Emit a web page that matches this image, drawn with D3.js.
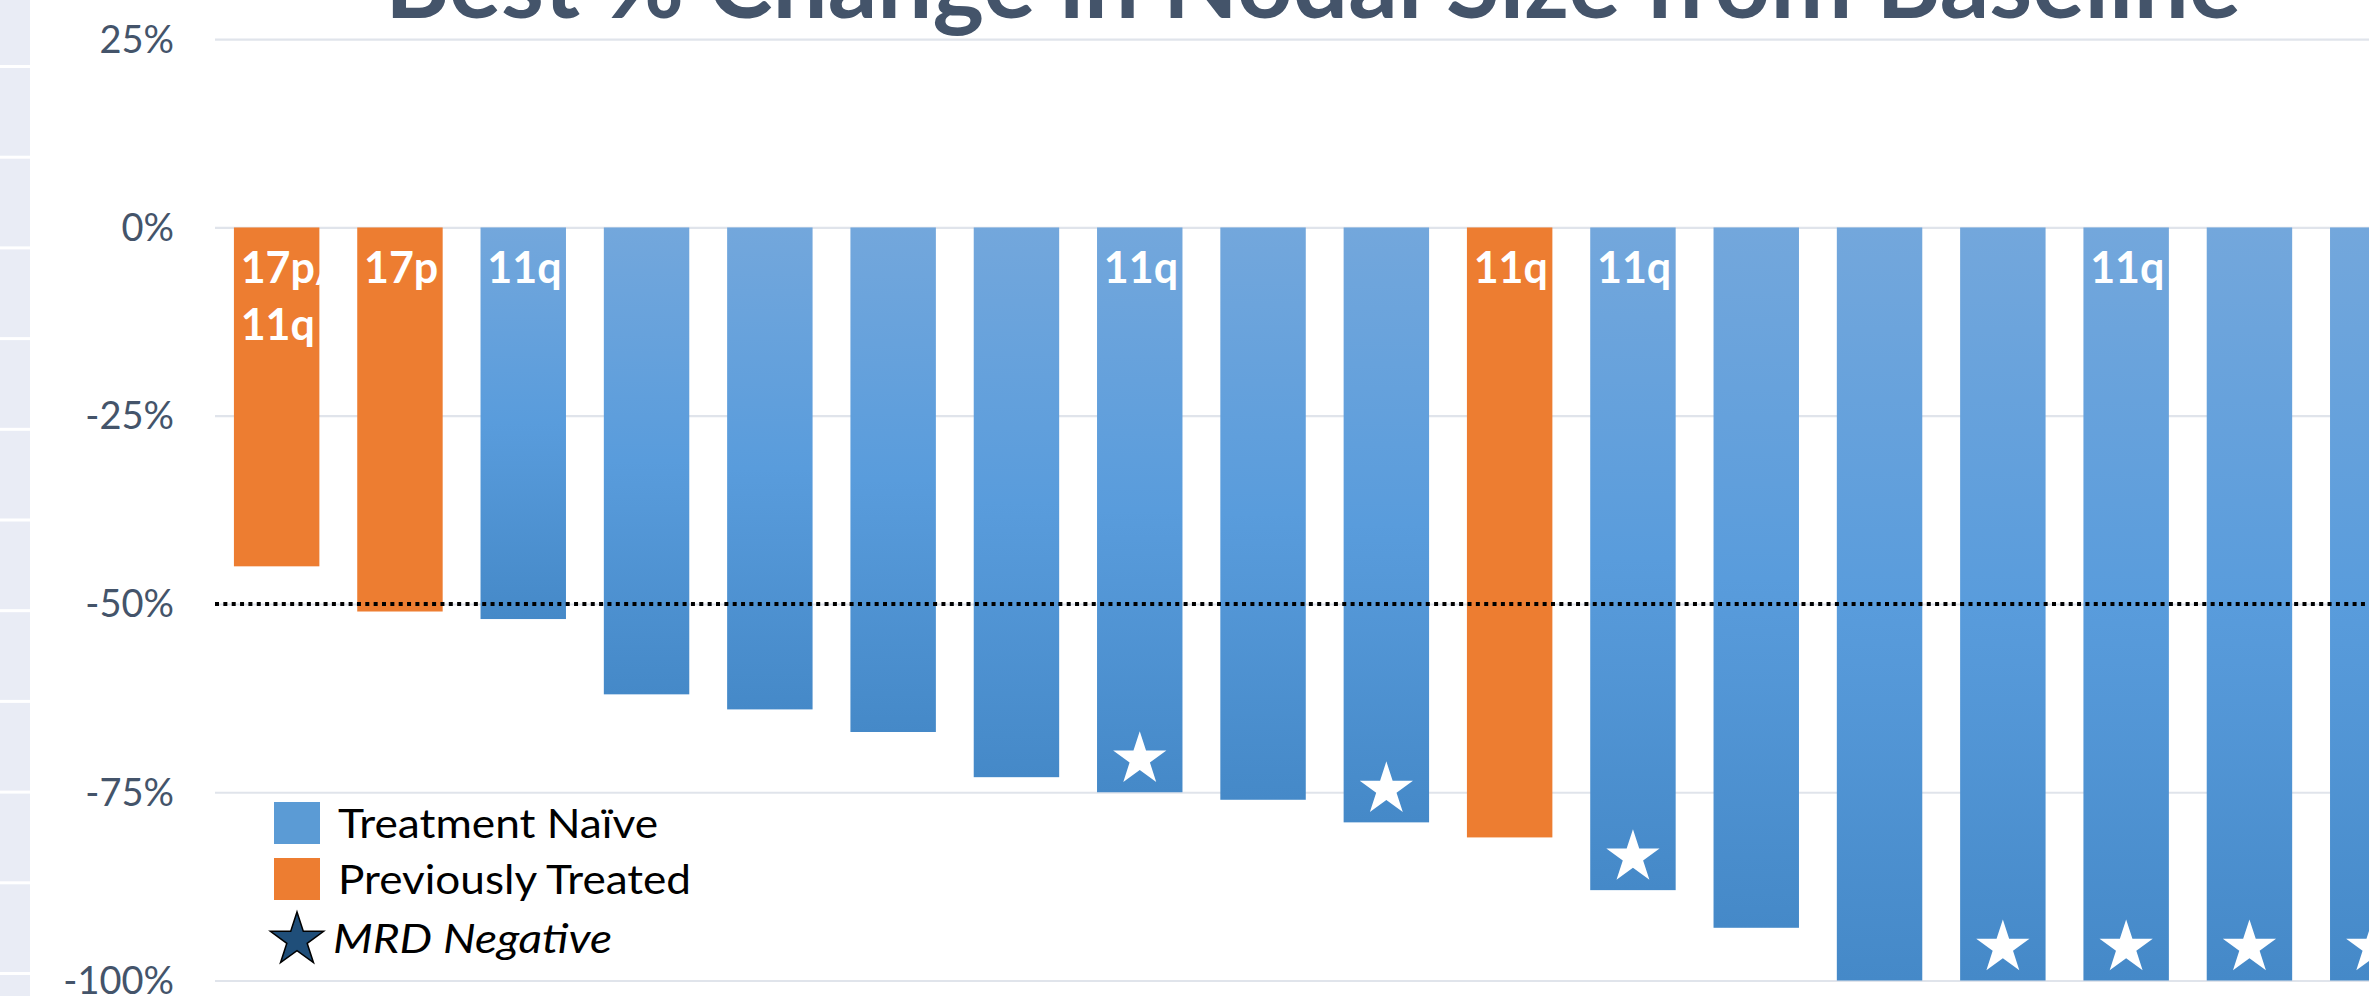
<!DOCTYPE html>
<html>
<head>
<meta charset="utf-8">
<script src="https://cdn.jsdelivr.net/npm/d3@7"></script>
<style>
  html, body { margin: 0; padding: 0; background: #ffffff; overflow: hidden; }
  svg { display: block; }
</style>
</head>
<body>
<script>
// ---------------- DATA ----------------
const patients = ["1","2","3","4","5","6","7","8","9","10","11","12","13","14","15","16","17","18"];
const bestChange = [-45, -51, -52, -62, -64, -67, -73, -75, -76, -79, -81, -88, -93, -100, -100, -100, -100, -100];
const cohort = ["Previously Treated","Previously Treated","Treatment Naïve","Treatment Naïve","Treatment Naïve",
                "Treatment Naïve","Treatment Naïve","Treatment Naïve","Treatment Naïve","Treatment Naïve",
                "Previously Treated","Treatment Naïve","Treatment Naïve","Treatment Naïve","Treatment Naïve",
                "Treatment Naïve","Treatment Naïve","Treatment Naïve"];
const mrdNegative = [false,false,false,false,false,false,false,true,false,true,false,true,false,false,true,true,true,true];
const cytogenetics = [["17p/","11q"],["17p"],["11q"],[],[],[],[],["11q"],[],[],["11q"],["11q"],[],[],[],["11q"],[],[]];
const tickValues = [25, 0, -25, -50, -75, -100];
const tickLabels = ["25%", "0%", "-25%", "-50%", "-75%", "-100%"];
const threshold = -50;
const legendItems = ["Treatment Naïve", "Previously Treated"];
const legendStarLabel = "MRD Negative";
const titleText = "Best % Change in Nodal Size from Baseline";

// ---------------- LAYOUT ----------------
const W = 2369, H = 996;
const plotLeft = 215, plotRight = W;
const step = 123.3;
const FONT = "Lato, 'Open Sans', 'DejaVu Sans', sans-serif";
const slate = "#44546a";
const orange = "#ed7d31";

const svg = d3.select("body").append("svg").attr("width", W).attr("height", H);

const defs = svg.append("defs");
const grad = defs.append("linearGradient").attr("id", "blueGrad")
  .attr("x1", 0).attr("y1", 0).attr("x2", 0).attr("y2", 1);
grad.append("stop").attr("offset", "0%").attr("stop-color", "#73a7dc");
grad.append("stop").attr("offset", "50%").attr("stop-color", "#599cdc");
grad.append("stop").attr("offset", "100%").attr("stop-color", "#4589c8");

// left decorative strip
const strip = svg.append("g");
strip.append("rect").attr("x", 0).attr("y", 0).attr("width", 30).attr("height", H).attr("fill", "#e9ecf5");
d3.range(11).forEach(k => {
  strip.append("rect").attr("x", 0).attr("y", 65 + k * 90.7).attr("width", 30).attr("height", 3).attr("fill", "#ffffff");
});

// scales
const y = d3.scaleLinear().domain([-100, 25]).range([980.5, 39.2]);
const x = d3.scaleBand().domain(patients)
  .range([plotLeft, plotLeft + step * patients.length])
  .paddingInner(0.307).paddingOuter(0.1535);

// gridlines
const yAxis = d3.axisLeft(y).tickValues(tickValues).tickSize(-(plotRight - plotLeft)).tickFormat("");
const gGrid = svg.append("g").attr("transform", `translate(${plotLeft},0)`).call(yAxis);
gGrid.select(".domain").remove();
gGrid.selectAll(".tick line").attr("stroke", "#e0e4eb").attr("stroke-width", 2.2);

// tick labels
svg.append("g").selectAll("text").data(tickValues).join("text")
  .attr("x", 174).attr("y", d => y(d) + 13.5)
  .attr("text-anchor", "end")
  .attr("font-family", FONT).attr("font-size", 38).attr("fill", slate)
  .text((d, i) => tickLabels[i]);

// bars
const data = patients.map((p, i) => ({ id: p, v: bestChange[i], c: cohort[i], mrd: mrdNegative[i], lab: cytogenetics[i] }));
svg.append("g").selectAll("rect").data(data).join("rect")
  .attr("x", d => x(d.id))
  .attr("y", y(0))
  .attr("width", x.bandwidth())
  .attr("height", d => y(d.v) - y(0))
  .attr("fill", d => d.c === "Previously Treated" ? orange : "url(#blueGrad)");

// threshold dotted line
svg.append("line")
  .attr("x1", plotLeft).attr("x2", plotRight)
  .attr("y1", y(threshold)).attr("y2", y(threshold))
  .attr("stroke", "#000").attr("stroke-width", 4).attr("stroke-dasharray", "4,4.35");

// cytogenetic labels
const labG = svg.append("g");
data.forEach(d => {
  d.lab.forEach((t, j) => {
    labG.append("text")
      .attr("x", x(d.id) + x.bandwidth() / 2 - 36)
      .attr("y", y(0) + 56 + j * 57)
      .attr("font-family", FONT).attr("font-weight", 700).attr("font-size", 43)
      .attr("fill", "#ffffff")
      .text(t);
  });
});

// MRD negative stars
const starPath = d3.symbol(d3.symbolStar, 880)();
svg.append("g").selectAll("path").data(data.filter(d => d.mrd)).join("path")
  .attr("d", starPath)
  .attr("transform", d => `translate(${x(d.id) + x.bandwidth() / 2},${y(d.v) - 33})`)
  .attr("fill", "#ffffff");

// legend
const leg = svg.append("g");
const legColors = ["#5b9bd5", orange];
const legWidths = [320, 353];
legendItems.forEach((t, i) => {
  leg.append("rect").attr("x", 274).attr("y", 802 + i * 56).attr("width", 46).attr("height", 42)
    .attr("fill", legColors[i]);
  leg.append("text").attr("x", 338).attr("y", 838 + i * 56)
    .attr("font-family", FONT).attr("font-size", 40).attr("fill", "#000")
    .attr("textLength", legWidths[i]).attr("lengthAdjust", "spacingAndGlyphs")
    .text(t);
});
leg.append("path").attr("d", starPath).attr("transform", "translate(297,940)")
  .attr("fill", "#1f4e79").attr("stroke", "#000").attr("stroke-width", 1.5);
leg.append("text").attr("x", 333).attr("y", 953)
  .attr("font-family", FONT).attr("font-size", 40).attr("font-style", "italic").attr("fill", "#000")
  .attr("textLength", 279).attr("lengthAdjust", "spacingAndGlyphs")
  .text(legendStarLabel);

// title (top cut off, as in the reference)
svg.append("text").attr("x", 385).attr("y", 18)
  .attr("font-family", FONT).attr("font-weight", 700).attr("font-size", 97).attr("fill", slate)
  .attr("textLength", 1856).attr("lengthAdjust", "spacingAndGlyphs")
  .text(titleText);
</script>
</body>
</html>
